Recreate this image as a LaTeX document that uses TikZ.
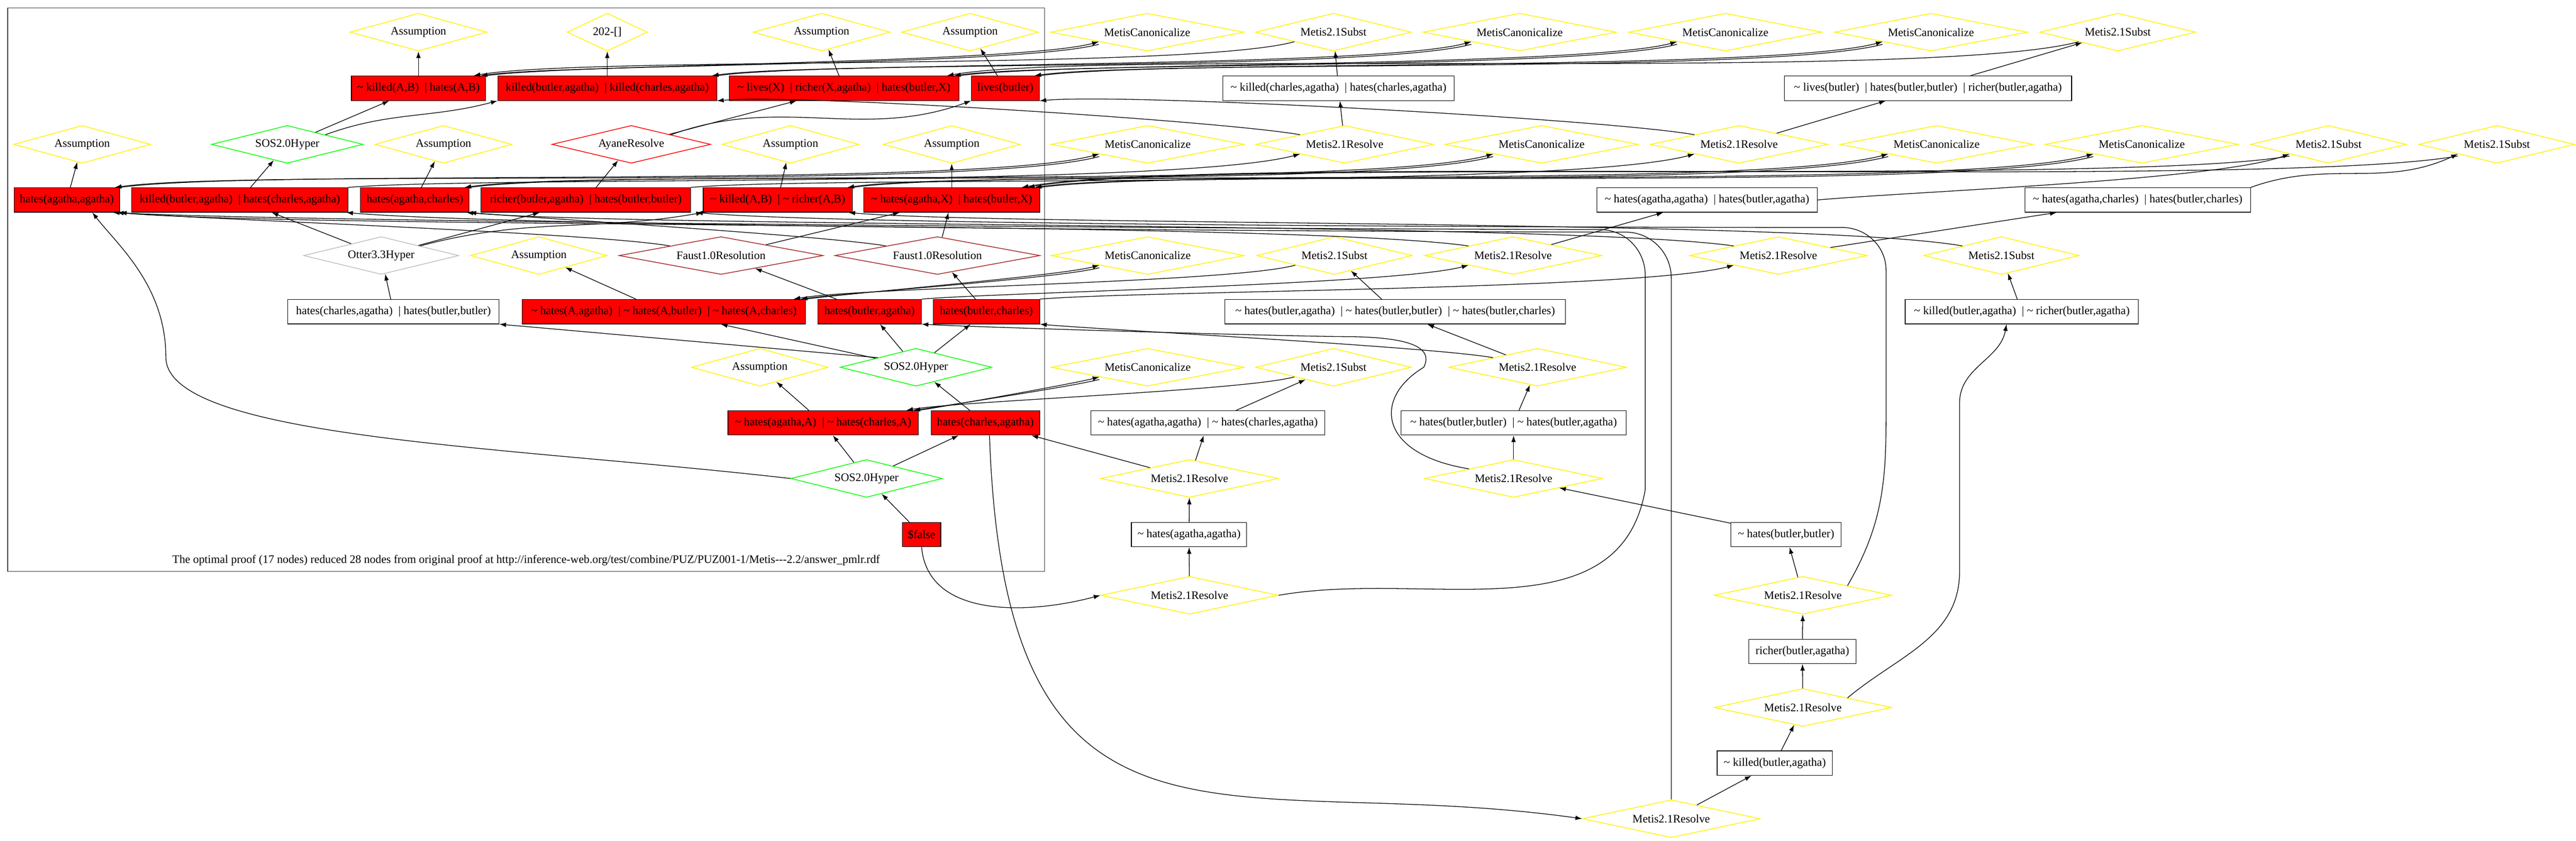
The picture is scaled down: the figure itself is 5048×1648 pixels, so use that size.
\documentclass[tikz,border=0pt]{standalone}
\usepackage{fontspec}
\setmainfont{Liberation Serif}
\usetikzlibrary{shapes.geometric,arrows.meta}
\newcommand{\tl}{\textasciitilde\ }
\newcommand{\vb}{\enspace|\ }
\definecolor{faust}{rgb}{0.65,0.16,0.16}
\begin{document}
\begin{tikzpicture}[x=1pt,y=1pt,
  every node/.style={font=\fontsize{22.5}{27}\selectfont},
  wbox/.style={draw,line width=1.2pt,minimum height=48pt,inner xsep=3pt,inner ysep=0pt},
  rbox/.style={wbox,fill=red},
  dia/.style={diamond,draw,line width=1.5pt,aspect=4,inner sep=0pt,minimum height=74pt},
  asm/.style={dia,draw=yellow,minimum width=268pt},
  mcan/.style={dia,draw=yellow,minimum width=378pt},
  msub/.style={dia,draw=yellow,minimum width=305pt},
  mres/.style={dia,draw=yellow,minimum width=348pt},
  sos/.style={dia,draw=green,minimum width=297pt},
  arr/.style={-{Latex[length=13pt,width=9pt]},line width=1.3pt}]
\useasboundingbox (0,0) rectangle (5048,-1648);
\draw[black!75,line width=1.3pt] (15,-16) rectangle (2047,-1120);
\node (cap) at (1031,-1098) {The optimal proof (17 nodes) reduced 28 nodes from original proof at http://inference-web.org/test/combine/PUZ/PUZ001-1/Metis-{}-{}-2.2/answer\_pmlr.rdf};

\node[asm] (as1) at (820,-63) {Assumption};
\node[asm,minimum width=157pt] (d202) at (1190,-63) {202-[]};
\node[asm] (as2) at (1610,-63) {Assumption};
\node[asm] (as3) at (1901,-63) {Assumption};
\node[mcan] (mc1) at (2248,-63) {MetisCanonicalize};
\node[msub] (ms1) at (2613,-63) {Metis2.1Subst};
\node[mcan] (mc2) at (2978,-63) {MetisCanonicalize};
\node[mcan] (mc3) at (3381,-63) {MetisCanonicalize};
\node[mcan] (mc4) at (3784,-63) {MetisCanonicalize};
\node[msub] (ms2) at (4150,-63) {Metis2.1Subst};

\node[rbox,minimum width=263pt] (kh) at (820,-173) {\tl killed(A,B)\vb hates(A,B)};
\node[rbox,minimum width=429pt] (kk) at (1190,-173) {killed(butler,agatha)\vb killed(charles,agatha)};
\node[rbox,minimum width=450pt] (lrh) at (1654,-173) {\tl lives(X)\vb richer(X,agatha)\vb hates(butler,X)};
\node[rbox,minimum width=133pt] (lb) at (1970,-173) {lives(butler)};
\node[wbox,minimum width=453pt] (w1) at (2623,-173) {\tl killed(charles,agatha)\vb hates(charles,agatha)};
\node[wbox,minimum width=563pt] (w2) at (3778,-173) {\tl lives(butler)\vb hates(butler,butler)\vb richer(butler,agatha)};

\node[asm] (as4) at (161,-283) {Assumption};
\node[sos] (sosA) at (563,-283) {SOS2.0Hyper};
\node[asm] (as5) at (869,-283) {Assumption};
\node[dia,draw=red,minimum width=311pt] (ayane) at (1237,-283) {AyaneResolve};
\node[asm] (as6) at (1549,-283) {Assumption};
\node[asm] (as7) at (1865,-283) {Assumption};
\node[mcan] (mc5) at (2249,-283) {MetisCanonicalize};
\node[mres] (mr1) at (2635,-283) {Metis2.1Resolve};
\node[mcan] (mc6) at (3021,-283) {MetisCanonicalize};
\node[mres] (mr2) at (3408,-283) {Metis2.1Resolve};
\node[mcan] (mc7) at (3795,-283) {MetisCanonicalize};
\node[mcan] (mc8) at (4197,-283) {MetisCanonicalize};
\node[msub] (ms3) at (4563,-283) {Metis2.1Subst};
\node[msub] (ms4) at (4893,-283) {Metis2.1Subst};

\node[rbox,minimum width=207pt] (haa) at (131,-392) {hates(agatha,agatha)};
\node[rbox,minimum width=424pt] (kbh) at (470,-392) {killed(butler,agatha)\vb hates(charles,agatha)};
\node[rbox,minimum width=213pt] (hac) at (813,-392) {hates(agatha,charles)};
\node[rbox,minimum width=411pt] (rbh) at (1148,-392) {richer(butler,agatha)\vb hates(butler,butler)};
\node[rbox,minimum width=292pt] (kr) at (1524,-392) {\tl killed(A,B)\vb\tl richer(A,B)};
\node[rbox,minimum width=345pt] (hbx) at (1865,-392) {\tl hates(agatha,X)\vb hates(butler,X)};
\node[wbox,minimum width=432pt] (w3) at (3345,-392) {\tl hates(agatha,agatha)\vb hates(butler,agatha)};
\node[wbox,minimum width=442pt] (w4) at (4189,-392) {\tl hates(agatha,charles)\vb hates(butler,charles)};

\node[dia,draw=black!25,minimum width=304pt] (otter) at (747,-501) {Otter3.3Hyper};
\node[asm] (as8) at (1056,-501) {Assumption};
\node[dia,draw=faust,minimum width=400pt] (faustA) at (1413,-501) {Faust1.0Resolution};
\node[dia,draw=faust,minimum width=402pt] (faustB) at (1837,-501) {Faust1.0Resolution};
\node[mcan] (mc9) at (2249,-501) {MetisCanonicalize};
\node[msub] (ms5) at (2615,-501) {Metis2.1Subst};
\node[mres] (mr3) at (2965,-501) {Metis2.1Resolve};
\node[mres] (mr4) at (3485,-501) {Metis2.1Resolve};
\node[msub] (ms6) at (3922,-501) {Metis2.1Subst};

\node[wbox,minimum width=414pt] (hch) at (771,-611) {hates(charles,agatha)\vb hates(butler,butler)};
\node[rbox,minimum width=555pt] (hhh) at (1301,-611) {\tl hates(A,agatha)\vb\tl hates(A,butler)\vb\tl hates(A,charles)};
\node[rbox,minimum width=203pt] (hba) at (1704,-611) {hates(butler,agatha)};
\node[rbox,minimum width=209pt] (hbc) at (1933,-611) {hates(butler,charles)};
\node[wbox,minimum width=668pt] (w5) at (2734,-611) {\tl hates(butler,agatha)\vb\tl hates(butler,butler)\vb\tl hates(butler,charles)};
\node[wbox,minimum width=457pt] (w6) at (3962,-611) {\tl killed(butler,agatha)\vb\tl richer(butler,agatha)};

\node[asm] (as9) at (1489,-720) {Assumption};
\node[sos] (sosB) at (1795,-720) {SOS2.0Hyper};
\node[mcan] (mc10) at (2249,-720) {MetisCanonicalize};
\node[msub] (ms7) at (2613,-720) {Metis2.1Subst};
\node[mres] (mr5) at (3013,-720) {Metis2.1Resolve};

\node[rbox,minimum width=373pt] (hah) at (1613,-829) {\tl hates(agatha,A)\vb\tl hates(charles,A)};
\node[rbox,minimum width=213pt] (hca) at (1931,-829) {hates(charles,agatha)};
\node[wbox,minimum width=459pt] (w8) at (2367,-829) {\tl hates(agatha,agatha)\vb\tl hates(charles,agatha)};
\node[wbox,minimum width=441pt] (w7) at (2966,-829) {\tl hates(butler,butler)\vb\tl hates(butler,agatha)};

\node[sos] (sosC) at (1698,-938) {SOS2.0Hyper};
\node[mres] (mr6) at (2331,-938) {Metis2.1Resolve};
\node[mres] (mr7) at (2966,-938) {Metis2.1Resolve};

\node[rbox,minimum width=75pt] (false) at (1806,-1048) {\$false};
\node[wbox,minimum width=226pt] (w9) at (2330,-1048) {\tl hates(agatha,agatha)};
\node[wbox,minimum width=216pt] (w10) at (3500,-1048) {\tl hates(butler,butler)};
\node[mres] (mr11) at (2331,-1167) {Metis2.1Resolve};
\node[mres] (mr8) at (3533,-1167) {Metis2.1Resolve};
\node[wbox,minimum width=210pt] (w11) at (3532,-1277) {richer(butler,agatha)};
\node[mres] (mr9) at (3533,-1387) {Metis2.1Resolve};
\node[wbox,minimum width=226pt] (w12) at (3478,-1496) {\tl killed(butler,agatha)};
\node[mres] (mr10) at (3275,-1605) {Metis2.1Resolve};

\draw[arr] (kh) -- (as1);
\draw[arr] (kk) -- (d202);
\draw[arr] (lrh) -- (as2);
\draw[arr] (lb) -- (as3);
\draw[arr] (haa) -- (as4);
\draw[arr] (hac) -- (as5);
\draw[arr] (kr) -- (as6);
\draw[arr] (hbx) -- (as7);
\draw[arr] (hhh) -- (as8);
\draw[arr] (hah) -- (as9);

\draw[arr] (kbh) -- (sosA);
\draw[arr] (sosA) -- (kh);
\draw[arr] (sosA.north east) .. controls +(20:135) and +(195:135) .. (kk.south west);
\draw[arr] (rbh) -- (ayane);
\draw[arr] (ayane) -- (lrh);
\draw[arr] (ayane.north east) .. controls +(20:230) and +(200:230) .. (lb.south west);
\draw[arr] (hch) -- (otter);
\draw[arr] (otter) -- (kbh);
\draw[arr] (otter) -- (rbh);
\draw[arr] (otter.north east) .. controls +(15:220) and +(190:220) .. (kr.south west);
\draw[arr] (hba) -- (faustA);
\draw[arr] (faustA) -- (hbx);
\draw[arr] (faustA.north west) .. controls +(170:150) and +(-5:150) .. (haa.south east);
\draw[arr] (hbc) -- (faustB);
\draw[arr] (faustB) -- (hbx);
\draw[arr] (faustB.north west) .. controls +(170:112) and +(-5:112) .. (hac.south east);
\draw[arr] (hca) -- (sosB);
\draw[arr] (sosB) -- (hhh);
\draw[arr] (sosB) -- (hba);
\draw[arr] (sosB) -- (hbc);
\draw[arr] (sosB.north west) .. controls +(175:290) and +(-5:290) .. (hch.south east);
\draw[arr] (false) -- (sosC);
\draw[arr] (sosC) -- (hah);
\draw[arr] (sosC) -- (hca);
\draw[arr] (sosC.west) .. controls (1000,-875) and (325,-860) .. (325,-700) .. controls (325,-560) and (230,-480) .. ([xshift=50pt]haa.south);

\draw[arr] (kh.north east) .. controls +(8:165) and +(195:165) .. (mc1.south west);
\draw[arr] ([yshift=-5pt]mc1.south west) .. controls +(195:165) and +(8:165) .. ([xshift=-10pt]kh.north east);
\draw[arr] (kk.north east) .. controls +(8:203) and +(195:203) .. (mc2.south west);
\draw[arr] ([yshift=-5pt]mc2.south west) .. controls +(195:203) and +(8:203) .. ([xshift=-10pt]kk.north east);
\draw[arr] (lrh.north east) .. controls +(8:193) and +(195:193) .. (mc3.south west);
\draw[arr] ([yshift=-5pt]mc3.south west) .. controls +(195:193) and +(8:193) .. ([xshift=-10pt]lrh.north east);
\draw[arr] (lb.north east) .. controls +(8:227) and +(195:227) .. (mc4.south west);
\draw[arr] ([yshift=-5pt]mc4.south west) .. controls +(195:227) and +(8:227) .. ([xshift=-10pt]lb.north east);
\draw[arr] (haa.north east) .. controls +(8:263) and +(195:263) .. (mc5.south west);
\draw[arr] ([yshift=-5pt]mc5.south west) .. controls +(195:263) and +(8:263) .. ([xshift=-10pt]haa.north east);
\draw[arr] (hac.north east) .. controls +(8:275) and +(195:275) .. (mc6.south west);
\draw[arr] ([yshift=-5pt]mc6.south west) .. controls +(195:275) and +(8:275) .. ([xshift=-10pt]hac.north east);
\draw[arr] (kr.north east) .. controls +(8:278) and +(195:278) .. (mc7.south west);
\draw[arr] ([yshift=-5pt]mc7.south west) .. controls +(195:278) and +(8:278) .. ([xshift=-10pt]kr.north east);
\draw[arr] (hbx.north east) .. controls +(8:283) and +(195:283) .. (mc8.south west);
\draw[arr] ([yshift=-5pt]mc8.south west) .. controls +(195:283) and +(8:283) .. ([xshift=-10pt]hbx.north east);
\draw[arr] (hhh.north east) .. controls +(8:80) and +(195:80) .. (mc9.south west);
\draw[arr] ([yshift=-5pt]mc9.south west) .. controls +(195:80) and +(8:80) .. ([xshift=-10pt]hhh.north east);
\draw[arr] (hah.north east) .. controls +(8:50) and +(195:50) .. (mc10.south west);
\draw[arr] ([yshift=-5pt]mc10.south west) .. controls +(195:50) and +(8:50) .. ([xshift=-10pt]hah.north east);

\draw[arr] (w1) -- (ms1);
\draw[arr] (ms1.south west) .. controls +(195:221) and +(10:221) .. ([xshift=-24pt]kh.north east);
\draw[arr] (w2) -- (ms2);
\draw[arr] (ms2.south west) .. controls +(195:304) and +(10:304) .. ([xshift=-24pt]lrh.north east);
\draw[arr] (w3.east) .. controls +(5:200) and +(200:150) .. (ms3.south west);
\draw[arr] ([yshift=-4pt]ms3.south west) .. controls +(190:339) and +(10:339) .. ([xshift=-24pt]hbx.north east);
\draw[arr] (w4.north east) .. controls +(20:160) and +(205:160) .. (ms4.south west);
\draw[arr] ([yshift=-4pt]ms4.south west) .. controls +(190:386) and +(10:386) .. ([xshift=-36pt]hbx.north east);
\draw[arr] (w5) -- (ms5);
\draw[arr] (ms5.south west) .. controls +(195:135) and +(10:135) .. ([xshift=-24pt]hhh.north east);
\draw[arr] (w6) -- (ms6);
\draw[arr] (ms6.north west) .. controls +(170:299) and +(-5:299) .. ([xshift=-8pt]kr.south east);
\draw[arr] (w8) -- (ms7);
\draw[arr] (ms7.south west) .. controls +(195:105) and +(10:105) .. ([xshift=-24pt]hah.north east);

\draw[arr] (kbh.north east) .. controls +(5:256) and +(195:256) .. (mr1.south west);
\draw[arr] (mr1) -- (w1);
\draw[arr] (mr1.north west) .. controls +(170:157) and +(5:157) .. (kk.south east);
\draw[arr] (rbh.north east) .. controls +(5:270) and +(195:270) .. (mr2.south west);
\draw[arr] (mr2) -- (w2);
\draw[arr] (mr2.north west) .. controls +(170:176) and +(5:176) .. (lb.south east);
\draw[arr] (hba.north east) .. controls +(5:147) and +(195:147) .. (mr3.south west);
\draw[arr] (mr3) -- (w3);
\draw[arr] (mr3.north west) .. controls +(172:363) and +(-5:363) .. ([xshift=-6pt]haa.south east);
\draw[arr] (hbc.north east) .. controls +(5:187) and +(195:187) .. (mr4.south west);
\draw[arr] (mr4) -- (w4);
\draw[arr] (mr4.north west) .. controls +(172:340) and +(-5:340) .. ([xshift=-6pt]hac.south east);
\draw[arr] (w7) -- (mr5);
\draw[arr] (mr5) -- (w5);
\draw[arr] (mr5.north west) .. controls +(170:122) and +(-5:122) .. (hbc.south east);
\draw[arr] (w9) -- (mr6);
\draw[arr] (mr6) -- (w8);
\draw[arr] (mr6) -- (hca);
\draw[arr] (w10) -- (mr7);
\draw[arr] (mr7) -- (w7);
\draw[arr] (mr7.north west) .. controls (2700,-890) and (2690,-780) .. (2790,-720) .. controls (2810,-680) and (2760,-662) .. (2650,-660) .. controls +(180:116) and +(-3:116) .. (hba.south east);
\draw[arr] (w11) -- (mr8);
\draw[arr] (mr8) -- (w10);
\draw[arr] (mr8.north east) .. controls +(60:132) and +(-90:132) .. (3696,-820) -- (3696,-530) .. controls +(90:47) and +(0:47) .. (3610,-446) .. controls +(180:308) and +(-5:308) .. ([xshift=10pt]rbh.south east);
\draw[arr] (w12) -- (mr9);
\draw[arr] (mr9) -- (w11);
\draw[arr] (mr9.north east) .. controls +(40:130) and +(-90:130) .. (3840,-1120) -- (3840,-790) .. controls +(90:70) and +(-100:70) .. ([xshift=-30pt]w6.south);
\draw[arr] (mr10) -- (w12);
\draw[arr] ([xshift=8pt]hca.south) .. controls +(-88:900) and +(172:700) .. (mr10.west);
\draw[arr] (mr10.north) -- (3275,-545) .. controls +(90:50) and +(0:50) .. (3185,-455) .. controls +(180:343) and +(-5:343) .. ([xshift=-4pt]kbh.south east);
\draw[arr] (mr11) -- (w9);
\draw[arr] (false.south) .. controls +(-85:142) and +(195:142) .. (mr11.west);
\draw[arr] (mr11.east) .. controls +(10:293) and +(-100:293) .. (3224,-960) -- (3224,-540) .. controls +(90:50) and +(0:50) .. (3135,-450) .. controls +(180:399) and +(-3:399) .. ([xshift=-14pt]haa.south east);
\end{tikzpicture}
\end{document}
